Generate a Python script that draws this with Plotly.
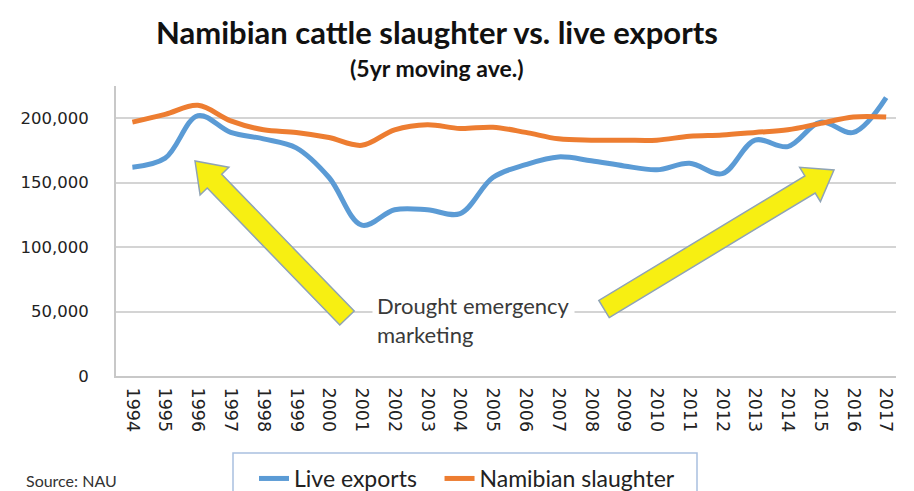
import numpy as np
import plotly.graph_objects as go

years = list(range(1994, 2018))
live_exports = [162000, 169000, 202000, 189000, 184000, 177000, 154000, 117000,
                129000, 129000, 126000, 154000, 164000, 170000, 167000, 163000,
                160000, 165000, 157000, 183000, 178000, 197000, 189000, 216000]
slaughter = [197000, 203000, 210000, 198000, 191000, 189000, 185000, 179000,
             191000, 195000, 192000, 193000, 189000, 184000, 183000, 183000,
             183000, 186000, 187000, 189000, 191000, 196000, 201000, 201000]
y_ticks = [0, 50000, 100000, 150000, 200000]
y_tick_labels = ["0", "50,000", "100,000", "150,000", "200,000"]

W, H = 914, 491
L, R, T, B = 116, 18, 86, 115
PW, PH = W - L - R, H - T - B

def paper(px, py):
    return (px - L) / PW, (H - B - py) / PH

def block_arrow(tail, tip, w=20, head_len=28, head_w=40):
    t = np.array(tail, float); p = np.array(tip, float)
    d = (p - t) / np.linalg.norm(p - t)
    n = np.array([-d[1], d[0]])
    b = p - d * head_len
    pts = [t + n * w / 2, b + n * w / 2, b + n * head_w / 2, p,
           b - n * head_w / 2, b - n * w / 2, t - n * w / 2]
    path = ""
    for i, q in enumerate(pts):
        x, y = paper(q[0], q[1])
        path += ("M" if i == 0 else "L") + f"{x:.4f},{y:.4f} "
    return path + "Z"

fig = go.Figure()
fig.add_trace(go.Scatter(x=years, y=live_exports, name="Live exports\u00a0\u00a0\u00a0", mode="lines",
                         line=dict(color="#5b9bd5", width=5, shape="spline", smoothing=1)))
fig.add_trace(go.Scatter(x=years, y=slaughter, name="Namibian slaughter", mode="lines",
                         line=dict(color="#ed7d31", width=5, shape="spline", smoothing=1)))

for tail, tip in [((347, 318), (195, 161)), ((604, 309), (834, 170))]:
    fig.add_shape(type="path", xref="paper", yref="paper", path=block_arrow(tail, tip),
                  fillcolor="#f7ef12", line=dict(color="#8fa3b5", width=1.5), layer="above")

# legend frame
bx0, by0 = paper(233, 453)
bx1, by1 = paper(697, 500)
fig.add_shape(type="rect", xref="paper", yref="paper", x0=bx0, y0=by1, x1=bx1, y1=by0,
              line=dict(color="#a9c0e0", width=1.5), fillcolor="white", layer="below")

ax, ay = paper(372, 320)
fig.add_annotation(xref="paper", yref="paper", x=ax, y=ay, xanchor="left", yanchor="middle",
                   text="Drought emergency<br>marketing", showarrow=False, align="left",
                   bgcolor="white", borderpad=4,
                   font=dict(family="Lato", size=22, color="#3a3a3a"))
tx, ty = paper(437, 32)
fig.add_annotation(xref="paper", yref="paper", x=tx, y=ty, xanchor="center", yanchor="middle",
                   text="<b>Namibian cattle slaughter vs. live exports</b>",
                   showarrow=False, font=dict(family="Lato", size=31, color="#111"))
sx, sy = paper(437, 68)
fig.add_annotation(xref="paper", yref="paper", x=sx, y=sy, xanchor="center", yanchor="middle",
                   text="<b>(5yr moving ave.)</b>",
                   showarrow=False, font=dict(family="Lato", size=23, color="#111"))
cx, cy = paper(24, 480)
fig.add_annotation(xref="paper", yref="paper", x=cx, y=cy, xanchor="left", yanchor="middle",
                   text="Source: NAU",
                   showarrow=False, font=dict(family="Lato", size=16, color="#333"))

lx, ly = paper(254, 457)
fig.update_layout(
    width=W, height=H, margin=dict(l=L, r=R, t=T, b=B, autoexpand=False),
    paper_bgcolor="white", plot_bgcolor="white",
    showlegend=True,
    legend=dict(orientation="h", x=lx, y=ly, xanchor="left", yanchor="top",
                bgcolor="rgba(0,0,0,0)", borderwidth=0,
                font=dict(family="Lato", size=23, color="#222"),
                itemwidth=30, tracegroupgap=0),
    xaxis=dict(range=[1993.5, 2017.3], tickmode="array", tickvals=years,
               ticktext=[str(y) for y in years], tickangle=90, showgrid=False,
               showline=True, linecolor="#c8c8c8", linewidth=2, ticks="", ticklabelstandoff=6,
               tickfont=dict(family="DejaVu Sans", size=17.5, color="#222"),
               zeroline=False, fixedrange=True),
    yaxis=dict(range=[0, 225000], tickmode="array", tickvals=y_ticks, ticktext=y_tick_labels,
               showgrid=True, gridcolor="#d4d4d4", gridwidth=2, showline=True,
               linecolor="#c8c8c8", linewidth=2, ticks="", ticklabelstandoff=22,
               tickfont=dict(family="DejaVu Sans", size=16.5, color="#222"),
               zeroline=False, fixedrange=True),
)
fig.write_html("out.html", config={"displayModeBar": False},
               post_script="document.body.style.margin='0';document.body.style.overflow='hidden';")
